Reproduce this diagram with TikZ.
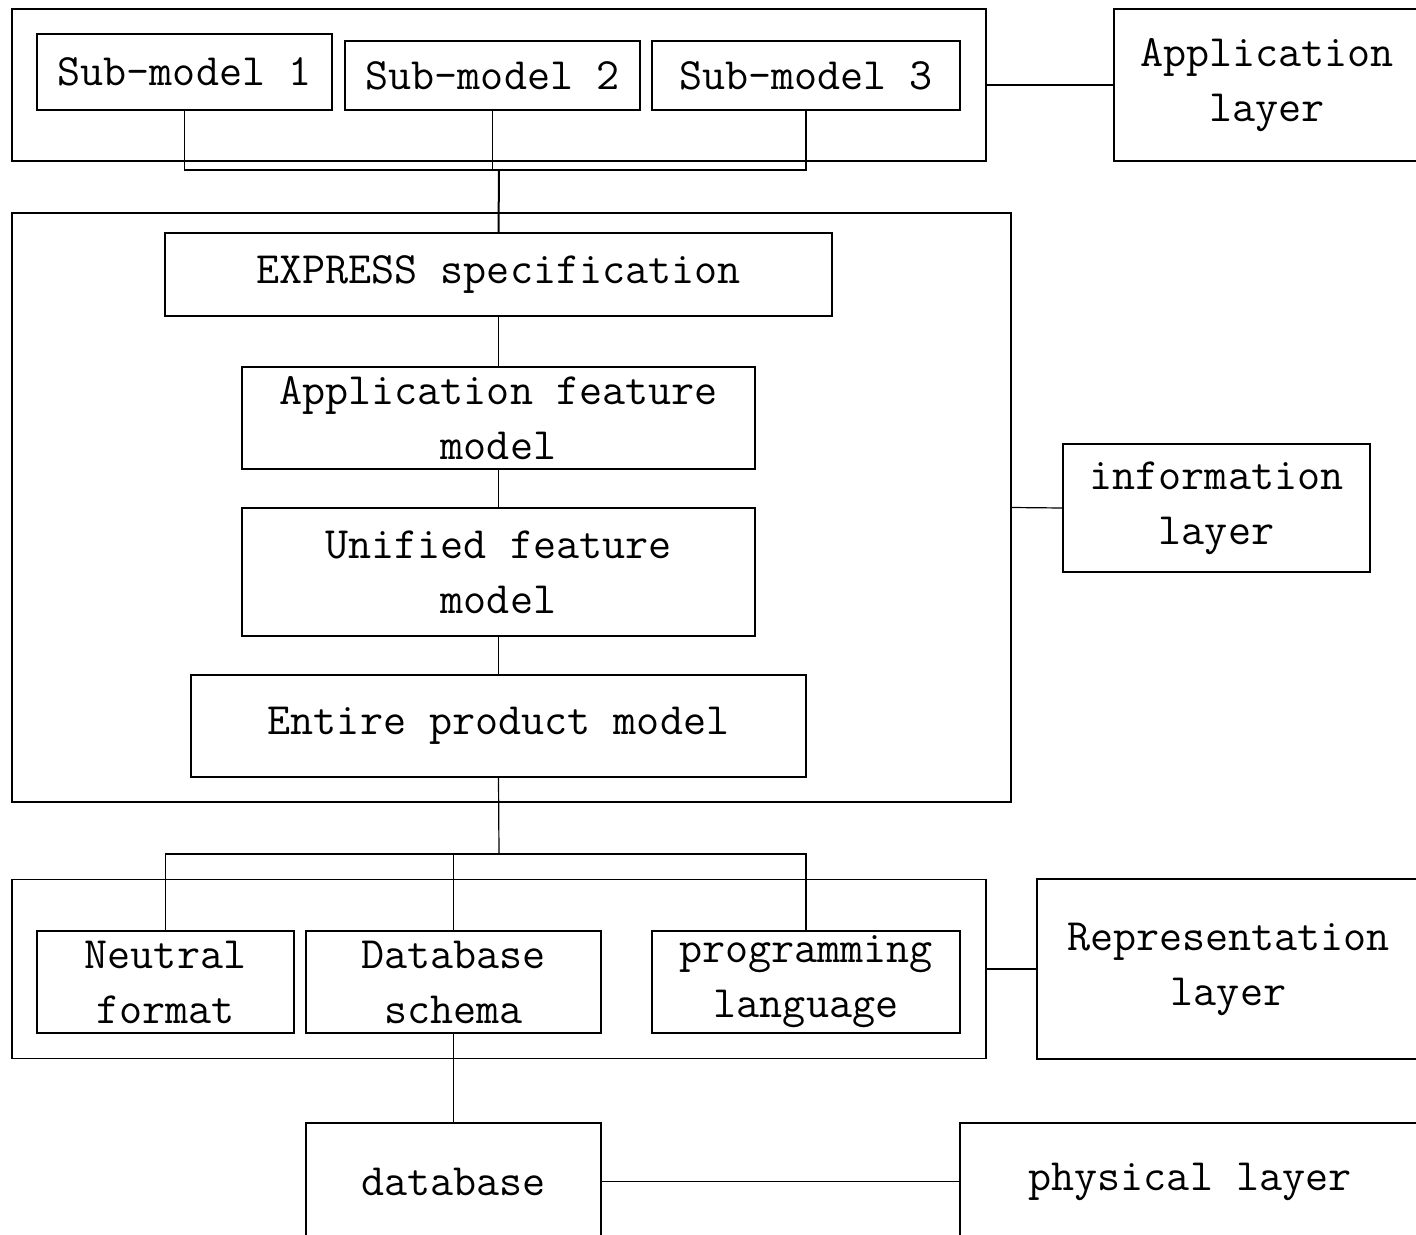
\documentclass[tikz,border=0pt]{standalone}
\usepackage{fontspec}
\setmonofont{Latin Modern Mono}
\begin{document}
\begin{tikzpicture}[x=1pt,y=-1pt,
  every node/.style={font=\ttfamily\fontsize{44.8}{55}\selectfont},
  box/.style={draw, line width=1.2pt, inner sep=0pt, align=center},
  wire/.style={line width=1.2pt}]
\useasboundingbox (0,0) rectangle (1416,1234);
\clip (0,0) rectangle (1416,1234);

% layer frames
\node[box, minimum width=974pt, minimum height=152pt] (toplayer) at (499,85) {};
\node[box, minimum width=999pt, minimum height=589pt] (midlayer) at (511.5,507.5) {};
\node[box, minimum width=974pt, minimum height=179pt] (botlayer) at (499,969) {};

% sub-models
\node[box, minimum width=295pt, minimum height=76pt] (s1) at (184.5,72) {Sub-model 1};
\node[box, minimum width=295pt, minimum height=69pt] (s2) at (492.5,75.5) {Sub-model 2};
\node[box, minimum width=308pt, minimum height=69pt] (s3) at (806,75.5) {Sub-model 3};

% information chain
\node[box, minimum width=667pt, minimum height=83pt] (expr) at (498.5,274.5) {EXPRESS specification};
\node[box, minimum width=513pt, minimum height=102pt] (afm) at (498.5,418) {Application feature\\model};
\node[box, minimum width=513pt, minimum height=128pt] (ufm) at (498.5,572) {Unified feature\\model};
\node[box, minimum width=615pt, minimum height=102pt] (epm) at (498.5,726) {Entire product model};

% representations
\node[box, minimum width=257pt, minimum height=102pt] (neutral) at (165.5,982) {Neutral\\format};
\node[box, minimum width=295pt, minimum height=102pt] (dbs) at (453.5,982) {Database\\schema};
\node[box, minimum width=308pt, minimum height=102pt] (prog) at (806,982) {programming\\language};

% storage
\node[box, minimum width=295pt, minimum height=117pt] (db) at (453.5,1181.5) {database};

% layer labels
\node[box, minimum width=306pt, minimum height=152pt] (applayer) at (1267,85) {Application\\layer};
\node[box, minimum width=307pt, minimum height=128pt] (infolayer) at (1216.5,508) {information\\layer};
\node[box, minimum width=383pt, minimum height=180pt] (replayer) at (1228.5,969) {Representation\\layer};
\node[box, minimum width=460pt, minimum height=117pt] (phylayer) at (1190,1181.5) {physical layer};

% bus coordinates
\coordinate (topbus) at (499,170);
\coordinate (botbus) at (499,854);

% connectors
\draw[wire] (s1.south) |- (s3.south |- topbus) -- (s3.south);
\draw[wire] (s2.south) -- (s2.south |- topbus);
\draw[wire, line width=2pt] (topbus) -- (expr.north);
\draw[wire] (expr.south) -- (afm.north);
\draw[wire] (afm.south) -- (ufm.north);
\draw[wire] (ufm.south) -- (epm.north);
\draw[wire] (epm.south) -- (botbus);
\draw[wire] (neutral.north) |- (prog.north |- botbus) -- (prog.north);
\draw[wire] (dbs.north) -- (dbs.north |- botbus);
\draw[wire] (dbs.south) -- (db.north);

\draw[wire] (toplayer.east) -- (applayer.west);
\draw[wire] (midlayer.east) -- (infolayer.west);
\draw[wire] (botlayer.east) -- (replayer.west);
\draw[wire] (db.east) -- (phylayer.west);
\end{tikzpicture}
\end{document}
